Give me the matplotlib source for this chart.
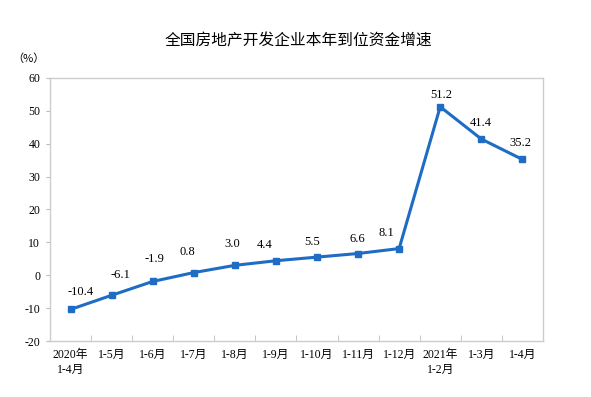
import matplotlib
matplotlib.use("Agg")
import matplotlib.pyplot as plt

plt.rcParams['font.family'] = ['Liberation Serif', 'Noto Sans CJK SC']

categories = ["2020年\n1-4月", "1-5月", "1-6月", "1-7月", "1-8月", "1-9月", "1-10月",
              "1-11月", "1-12月", "2021年\n1-2月", "1-3月", "1-4月"]
growth = [-10.4, -6.1, -1.9, 0.8, 3.0, 4.4, 5.5, 6.6, 8.1, 51.2, 41.4, 35.2]
yticks = [-20, -10, 0, 10, 20, 30, 40, 50, 60]

# label nudges in pixels (dx, dy) so the numbers sit like the original
label_dx = [10, 9, 2, -6, -3, -11, -5, -1, -13, 1, -1, -2]
label_dy = [17, 20, 22, 21, 21, 16, 15, 15, 16, 12, 16, 16]

fig = plt.figure(figsize=(5.91, 3.97), dpi=100)
ax = fig.add_axes([0.0846, 0.141, 0.834, 0.663])

x = list(range(len(growth)))
ax.plot(x, growth, color="#1f6cc4", lw=2.2, marker="s", ms=4, zorder=3)
for xi, v, dx, dy in zip(x, growth, label_dx, label_dy):
    ax.annotate(f"{v:.1f}", (xi, v), xytext=(dx * 0.72, dy * 0.72), textcoords="offset points",
                ha="center", va="center", fontsize=9)

ax.set_xlim(-0.5, len(growth) - 0.5)
ax.set_ylim(-20, 60)
ax.set_yticks(yticks)
ax.set_yticklabels([str(t) for t in yticks], fontsize=8.5)
ax.set_xticks(x)
ax.set_xticklabels(categories, fontsize=8.5, linespacing=1.3)
ax.tick_params(axis="x", length=0, pad=6)
ax.set_xticks([i + 0.5 for i in x[:-1]], minor=True)
ax.tick_params(axis="x", which="minor", direction="in", length=4, color="#bbbbbb")
ax.tick_params(axis="y", length=3, color="#bbbbbb", pad=4)
for s in ax.spines.values():
    s.set_color("#cccccc")
    s.set_linewidth(1)

fig.text(0.505, 0.897, "全国房地产开发企业本年到位资金增速", ha="center", va="center",
         fontsize=11.3, family=["Noto Sans CJK SC"])
fig.text(0.048, 0.853, "（%）", ha="center", va="center", fontsize=8,
         family=["Noto Sans CJK SC"])

fig.savefig("out.png", dpi=100)
